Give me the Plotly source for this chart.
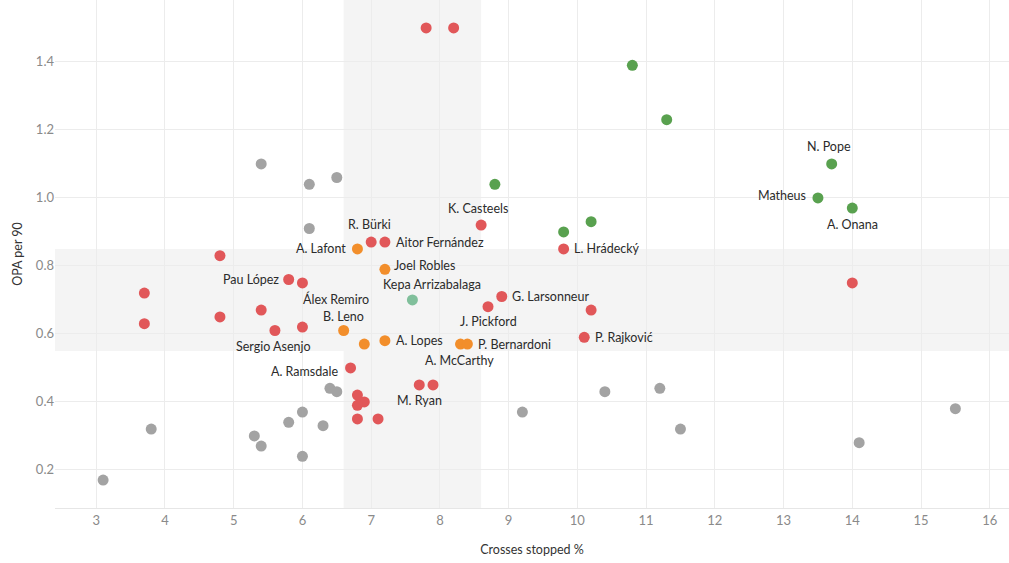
import plotly.graph_objects as go

# ---- data ----
gray_x = [5.4, 6.1, 6.5, 6.1, 6.4, 6.5, 6.0, 3.8, 5.8, 6.3, 5.3, 5.4, 6.0, 3.1, 9.2, 10.4, 11.2, 11.5, 14.1, 15.5]
gray_y = [1.10, 1.04, 1.06, 0.91, 0.44, 0.43, 0.37, 0.32, 0.34, 0.33, 0.30, 0.27, 0.24, 0.17, 0.37, 0.43, 0.44, 0.32, 0.28, 0.38]

red_names = ["", "", "K. Casteels", "R. Bürki", "Aitor Fernández", "L. Hrádecký", "", "", "Pau López",
             "Álex Remiro", "", "G. Larsonneur", "J. Pickford", "", "", "", "", "", "Sergio Asenjo",
             "P. Rajković", "A. Ramsdale", "M. Ryan", "", "", "", "", "", ""]
red_x = [7.8, 8.2, 8.6, 7.0, 7.2, 9.8, 4.8, 14.0, 5.8, 6.0, 3.7, 8.9, 8.7, 5.4, 10.2, 4.8, 3.7, 6.0, 5.6,
         10.1, 6.7, 7.7, 7.9, 6.8, 6.9, 6.8, 6.8, 7.1]
red_y = [1.50, 1.50, 0.92, 0.87, 0.87, 0.85, 0.83, 0.75, 0.76, 0.75, 0.72, 0.71, 0.68, 0.67, 0.67, 0.65, 0.63,
         0.62, 0.61, 0.59, 0.50, 0.45, 0.45, 0.42, 0.40, 0.39, 0.35, 0.35]

green_names = ["", "", "N. Pope", "Matheus", "A. Onana", "", "", ""]
green_x = [10.8, 11.3, 13.7, 13.5, 14.0, 8.8, 10.2, 9.8]
green_y = [1.39, 1.23, 1.10, 1.00, 0.97, 1.04, 0.93, 0.90]

orange_names = ["A. Lafont", "Joel Robles", "B. Leno", "", "A. Lopes", "A. McCarthy", "P. Bernardoni"]
orange_x = [6.8, 7.2, 6.6, 6.9, 7.2, 8.3, 8.4]
orange_y = [0.85, 0.79, 0.61, 0.57, 0.58, 0.57, 0.57]

teal_names = ["Kepa Arrizabalaga"]
teal_x = [7.6]
teal_y = [0.70]

# average bands
band_x = [6.6, 8.6]
band_y = [0.55, 0.85]

x_ticks = list(range(3, 17))
y_ticks = [0.2, 0.4, 0.6, 0.8, 1.0, 1.2, 1.4]

# ---- label placement (pixel offsets) ----
label_pos = {
    "K. Casteels": ("center", -3, 17),
    "R. Bürki": ("center", -2, 18),
    "Aitor Fernández": ("left", 9, 0),
    "L. Hrádecký": ("left", 8, 0),
    "Pau López": ("right", -8, 0),
    "Álex Remiro": ("center", 34, -16),
    "G. Larsonneur": ("left", 8, 0),
    "J. Pickford": ("center", 0, -15),
    "Sergio Asenjo": ("center", -1, -16),
    "P. Rajković": ("left", 9, 0),
    "A. Ramsdale": ("right", -11, -4),
    "M. Ryan": ("center", 0, -16),
    "N. Pope": ("center", -3, 17),
    "Matheus": ("right", -10, 2),
    "A. Onana": ("center", 0, -16),
    "A. Lafont": ("right", -9, 0),
    "Joel Robles": ("left", 7, 4),
    "B. Leno": ("center", 0, 14),
    "A. Lopes": ("left", 9, 0),
    "A. McCarthy": ("center", -1, -16),
    "P. Bernardoni": ("left", 9, 0),
    "Kepa Arrizabalaga": ("center", 20, 15),
}

fig = go.Figure()

def add_group(xs, ys, color):
    fig.add_trace(go.Scatter(
        x=xs, y=ys, mode="markers",
        marker=dict(size=11, color=color, line=dict(width=0)),
        hoverinfo="skip", showlegend=False))

add_group(gray_x, gray_y, "#a3a3a3")
add_group(red_x, red_y, "#e15759")
add_group(green_x, green_y, "#59a14f")
add_group(orange_x, orange_y, "#f28e2b")
add_group(teal_x, teal_y, "#80bf9b")

annotations = []
for names, xs, ys in [(red_names, red_x, red_y), (green_names, green_x, green_y),
                      (orange_names, orange_x, orange_y), (teal_names, teal_x, teal_y)]:
    for n, xv, yv in zip(names, xs, ys):
        if not n:
            continue
        anchor, dx, dy = label_pos[n]
        annotations.append(dict(
            x=xv, y=yv, xref="x", yref="y", text=n, showarrow=False,
            xanchor=anchor, yanchor="middle", xshift=dx, yshift=dy,
            font=dict(family="Lato", size=12.5, color="#2b2b2b")))

shapes = [
    dict(type="rect", xref="x", yref="paper", x0=band_x[0], x1=band_x[1], y0=0, y1=1,
         fillcolor="#f4f4f4", line=dict(width=0), layer="below"),
    dict(type="rect", xref="paper", yref="y", x0=0, x1=1, y0=band_y[0], y1=band_y[1],
         fillcolor="#f4f4f4", line=dict(width=0), layer="below"),
]

fig.update_layout(
    width=1009, height=563,
    margin=dict(l=55, r=0, t=0, b=55),
    paper_bgcolor="white", plot_bgcolor="white",
    shapes=shapes, annotations=annotations,
    font=dict(family="Lato", color="#333333"),
    xaxis=dict(range=[2.4, 16.28], tickvals=x_ticks, showgrid=True, gridcolor="#ececec",
               gridwidth=1, zeroline=False, showline=True, linecolor="#e6e6e6", linewidth=1,
               ticks="", automargin=False,
               tickfont=dict(family="Lato", size=13, color="#8a8a8a"),
               title=dict(text="Crosses stopped %", font=dict(family="Lato", size=12.5, color="#333333"),
                          standoff=18)),
    yaxis=dict(range=[0.088, 1.582], tickvals=y_ticks, tickformat=".1f", showgrid=True,
               gridcolor="#ececec", gridwidth=1, zeroline=False, showline=False, ticks="",
               automargin=False,
               tickfont=dict(family="Lato", size=13, color="#8a8a8a"),
               title=dict(text="OPA per 90", font=dict(family="Lato", size=12.5, color="#333333"),
                          standoff=10)),
)

fig.write_html("out.html", config={"displayModeBar": False},
               post_script="document.body.style.margin='0';document.body.style.overflow='hidden';")
